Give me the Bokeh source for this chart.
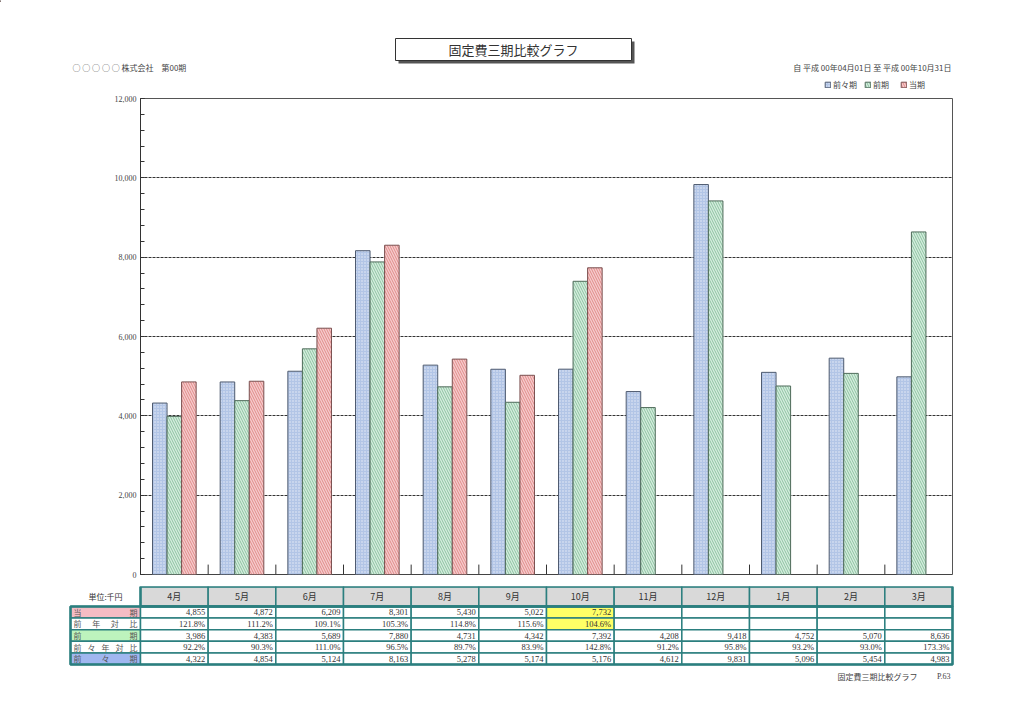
from bokeh.plotting import figure
from bokeh.models import (Range1d, ColumnDataSource, Legend, LegendItem,
                          FixedTicker, NumeralTickFormatter)
from bokeh.layouts import column
from bokeh.embed import file_html
from bokeh.resources import INLINE
from bokeh.core.properties import value
import numpy as np

# ---------------- data ----------------
months = ["4月", "5月", "6月", "7月", "8月", "9月", "10月", "11月", "12月", "1月", "2月", "3月"]
current = [4855, 4872, 6209, 8301, 5430, 5022, 7732, None, None, None, None, None]      # 当期
yoy = [121.8, 111.2, 109.1, 105.3, 114.8, 115.6, 104.6, None, None, None, None, None]   # 前年対比
previous = [3986, 4383, 5689, 7880, 4731, 4342, 7392, 4208, 9418, 4752, 5070, 8636]     # 前期
yoy2 = [92.2, 90.3, 111.0, 96.5, 89.7, 83.9, 142.8, 91.2, 95.8, 93.2, 93.0, 173.3]      # 前々年対比
prev2 = [4322, 4854, 5124, 8163, 5278, 5174, 5176, 4612, 9831, 5096, 5454, 4983]        # 前々期
y_ticks = [0, 2000, 4000, 6000, 8000, 10000, 12000]
series_names = ["前々期", "前期", "当期"]
row_labels = ["当期", "前年対比", "前期", "前々年対比", "前々期"]
highlight_month = "10月"
title_text = "固定費三期比較グラフ"
company_text = "○ ○ ○ ○ ○ 株式会社　第00期"
period_text = "自 平成 00年04月01日 至 平成 00年10月31日"
unit_text = "単位:千円"
page_text = "P.63"

JP = "Noto Sans CJK JP"
SERIF = "Liberation Serif"

# ---------------- geometry ----------------
W = 1024
H0, H1, H2 = 90, 496, 130
FL, FR = 140, 952
PX = (FR - FL) / len(months)

STY = {
    "b": dict(fill_color="#b2c5e6", line_color="#4f5b70", line_width=1,
              hatch_pattern=".", hatch_color="white", hatch_scale=3, hatch_weight=1, hatch_alpha=0.7),
    "g": dict(fill_color="#d6ecdf", line_color="#4f6b5a", line_width=1,
              hatch_pattern="\\", hatch_color="#8cc4a0", hatch_scale=5, hatch_weight=1),
    "p": dict(fill_color="#f6cccc", line_color="#7a5050", line_width=1,
              hatch_pattern="\\", hatch_color="#e08a8a", hatch_scale=5, hatch_weight=1),
}


def no_align(fig):
    try:
        fig.frame_align = False
    except Exception:
        pass


# ---------------- header ----------------
h = figure(width=W, height=H0, x_range=Range1d(0, W), y_range=Range1d(H0, 0),
           output_backend="svg", toolbar_location=None,
           min_border_left=0, min_border_right=0, min_border_top=0, min_border_bottom=0)
h.axis.visible = False
h.grid.visible = False
h.outline_line_color = None
no_align(h)

h.quad(left=[398], right=[634], top=[41], bottom=[63], fill_color="#555555", line_color=None)
h.quad(left=[395], right=[631], top=[38], bottom=[60], fill_color="white",
       line_color="#333333", line_width=1)
h.text(x=[513], y=[49], text=[title_text], text_align="center", text_baseline="middle",
       text_font=value(JP), text_font_size="13px", text_color="#333333")
h.text(x=[72], y=[67], text=[company_text], text_align="left", text_baseline="middle",
       text_font=value(JP), text_font_size="8px", text_color="#444444")
h.text(x=[951], y=[67], text=[period_text], text_align="right", text_baseline="middle",
       text_font=value(JP), text_font_size="8px", text_color="#444444")

# legend swatches (one point placed off the visible range, only the legend shows it)
off = dict(x=[-50], top=[1])
lb = h.vbar(x="x", top="top", width=1, source=ColumnDataSource(off), **STY["b"])
lg = h.vbar(x="x", top="top", width=1, source=ColumnDataSource(off), **STY["g"])
lp = h.vbar(x="x", top="top", width=1, source=ColumnDataSource(off), **STY["p"])
legend = Legend(items=[LegendItem(label=series_names[0], renderers=[lb]),
                       LegendItem(label=series_names[1], renderers=[lg]),
                       LegendItem(label=series_names[2], renderers=[lp])],
                orientation="horizontal", location=(824, 0),
                label_text_font=JP, label_text_font_size="8px", label_text_color="#444444",
                glyph_width=7, glyph_height=7, label_standoff=2, spacing=7,
                padding=0, margin=0, border_line_color=None, background_fill_alpha=0,
                label_height=10)
h.add_layout(legend)

# ---------------- chart ----------------
idx = np.arange(len(months)) + 0.5
bw = 0.215

p = figure(width=W, height=H1, x_range=Range1d(0, len(months)), y_range=Range1d(0, 12000),
           output_backend="svg", toolbar_location=None,
           min_border_left=FL, min_border_right=W - FR, min_border_top=8,
           min_border_bottom=12)
no_align(p)
p.outline_line_color = "#555555"
p.xaxis.visible = False

p.yaxis.ticker = FixedTicker(ticks=y_ticks, minor_ticks=list(range(0, 12001, 400)))
p.yaxis.formatter = NumeralTickFormatter(format="0,0")
p.yaxis.major_label_text_font = SERIF
p.yaxis.major_label_text_font_size = "8px"
p.yaxis.major_label_text_color = "#444444"
p.yaxis.major_tick_in = 4
p.yaxis.major_tick_out = 0
p.yaxis.minor_tick_in = 4
p.yaxis.minor_tick_out = 0
p.yaxis.major_label_standoff = 4
p.yaxis.axis_line_color = "#333333"
p.yaxis.major_tick_line_color = "#333333"
p.yaxis.minor_tick_line_color = "#333333"

p.xgrid.visible = False
p.ygrid.ticker = FixedTicker(ticks=y_ticks)
p.ygrid.grid_line_color = "#333333"
p.ygrid.grid_line_dash = "3 1"
p.ygrid.grid_line_width = 1

# category separator ticks along the bottom axis
seps = list(range(1, len(months)))
p.segment(x0=seps, x1=seps, y0=[0] * len(seps), y1=[250] * len(seps),
          line_color="#333333", line_width=1)
p.segment(x0=[0], x1=[len(months)], y0=[0], y1=[0], line_color="#333333", line_width=1)


def src(vals, off):
    xs = [x + off for x, v in zip(idx, vals) if v is not None]
    ys = [v for v in vals if v is not None]
    return ColumnDataSource(dict(x=xs, top=ys))


p.vbar(x="x", top="top", width=bw, source=src(prev2, -bw), **STY["b"])
p.vbar(x="x", top="top", width=bw, source=src(previous, 0), **STY["g"])
p.vbar(x="x", top="top", width=bw, source=src(current, bw), **STY["p"])

# ---------------- table ----------------
TL = 70
lab_w = (FL - TL) / PX
t = figure(width=W, height=H2, x_range=Range1d(-FL / PX, len(months) + (W - FR) / PX),
           y_range=Range1d(H2, 0), output_backend="svg", toolbar_location=None,
           min_border_left=0, min_border_right=0, min_border_top=0, min_border_bottom=0)
no_align(t)
t.axis.visible = False
t.grid.visible = False
t.outline_line_color = None

TEAL = "#2b7f7f"
hdr_top, hdr_bot = 0, 20
row_h = 11.6
row_tops = [hdr_bot + row_h * k for k in range(len(row_labels))]

hx = np.arange(len(months))
t.quad(left=hx, right=hx + 1, top=hdr_top, bottom=hdr_bot, fill_color="#d9d9d9",
       line_color=TEAL, line_width=1.5)
t.text(x=hx + 0.5, y=(hdr_top + hdr_bot) / 2, text=months, text_align="center",
       text_baseline="middle", text_font=value(JP), text_font_size="9px", text_color="#333333")
t.text(x=[-lab_w / 2], y=[(hdr_top + hdr_bot) / 2], text=[unit_text], text_align="center",
       text_baseline="middle", text_font=value(JP), text_font_size="8px", text_color="#333333")

label_fill = ["#f5bcc4", "white", "#bdf3bd", "white", "#a0b7f0"]
rows_vals = [
    [None if v is None else f"{v:,}" for v in current],
    [None if v is None else f"{v:.1f}%" for v in yoy],
    [f"{v:,}" for v in previous],
    [f"{v:.1f}%" for v in yoy2],
    [f"{v:,}" for v in prev2],
]
pad = 3 / PX
cw = 8 / PX
for k, lab in enumerate(row_labels):
    top = row_tops[k]
    bot = top + row_h
    t.quad(left=[-lab_w], right=[0], top=[top], bottom=[bot], fill_color=label_fill[k],
           line_color=TEAL, line_width=1.5)
    n = len(lab)
    cxs = np.linspace(-lab_w + pad + cw / 2, -pad - cw / 2, n)
    t.text(x=cxs, y=[(top + bot) / 2] * n, text=list(lab), text_align="center",
           text_baseline="middle", text_font=value(JP), text_font_size="8px",
           text_color="#555555")
    fills = ["#ffff66" if (months[i] == highlight_month and rows_vals[k][i] is not None and k < 2)
             else "white" for i in range(len(months))]
    t.quad(left=hx, right=hx + 1, top=top, bottom=bot, fill_color=fills,
           line_color=TEAL, line_width=1.5)
    vx = [i + 1 - pad for i in range(len(months)) if rows_vals[k][i] is not None]
    vt = [s for s in rows_vals[k] if s is not None]
    t.text(x=vx, y=[(top + bot) / 2] * len(vx), text=vt, text_align="right",
           text_baseline="middle", text_font=value(SERIF), text_font_size="8.5px",
           text_color="#333333")

t.quad(left=[0], right=[len(months)], top=[hdr_top], bottom=[hdr_bot], fill_color=None,
       line_color=TEAL, line_width=2.5)
t.quad(left=[-lab_w], right=[len(months)], top=[row_tops[0]], bottom=[row_tops[-1] + row_h],
       fill_color=None, line_color=TEAL, line_width=2.5)


def ux(px):
    return (px - FL) / PX


t.text(x=[ux(917)], y=[90], text=[title_text], text_align="right", text_baseline="middle",
       text_font=value(JP), text_font_size="8px", text_color="#444444")
t.text(x=[ux(950)], y=[90], text=[page_text], text_align="right", text_baseline="middle",
       text_font=value(SERIF), text_font_size="8px", text_color="#444444")

layout = column(h, p, t, spacing=0)
open("out.html", "w").write(file_html(layout, INLINE))
